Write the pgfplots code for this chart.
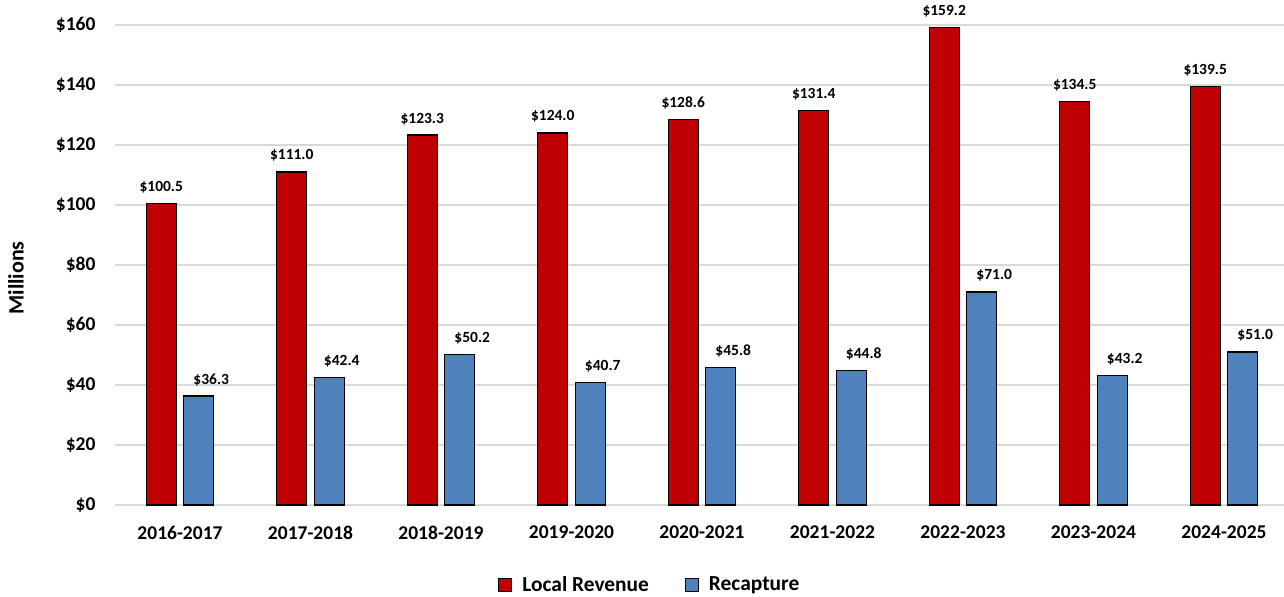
\documentclass[border=0pt]{standalone}
\usepackage{pgfplots}
\pgfplotsset{compat=1.18}
\usepackage{fontspec}
\setmainfont{Carlito}
\definecolor{rred}{HTML}{C00000}
\definecolor{rblue}{HTML}{4F81BD}
\definecolor{grid}{HTML}{D9D9D9}
\begin{document}
\begin{tikzpicture}
\begin{axis}[
  name=ax,
  scale only axis,
  width=584.625pt, height=240pt,
  xmin=-0.5, xmax=8.46,
  ymin=0, ymax=160,
  ybar=3.75pt, bar width=15pt,
  axis line style={draw=none},
  ytick={0,20,...,160},
  yticklabels={\$0,\$20,\$40,\$60,\$80,\$100,\$120,\$140,\$160},
  xtick={0,...,8},
  xticklabels={2016-2017,2017-2018,2018-2019,2019-2020,2020-2021,2021-2022,2022-2023,2023-2024,2024-2025},
  major tick length=0pt,
  ymajorgrids, major grid style={draw=grid, line width=0.75pt},
  xticklabel style={font=\fontsize{9.75pt}{11pt}\selectfont\bfseries, anchor=north, yshift=-7pt},
  yticklabel style={font=\fontsize{9.75pt}{11pt}\selectfont\bfseries, anchor=east, xshift=-6.1pt},
  /pgf/number format/assume math mode=true,
  ylabel={Millions},
  ylabel style={at={(rel axis cs:-0.0845,0.473)}, anchor=center, font=\fontsize{11pt}{13pt}\selectfont\bfseries},
  nodes near coords={\$\pgfmathprintnumber[fixed,fixed zerofill,precision=1]{\pgfplotspointmeta}},
  every node near coord/.append style={font=\fontsize{7.75pt}{9pt}\selectfont\bfseries, anchor=base, yshift=6pt, text=black},
  legend columns=2,
  legend style={at={(0.4585,-0.1667)}, anchor=center, draw=none, fill=none,
    font=\fontsize{10.7pt}{12pt}\selectfont\bfseries,
    /tikz/every odd column/.append style={column sep=3pt},
    /tikz/every even column/.append style={column sep=16pt}},
  legend image code/.code={\draw[#1, draw=black, line width=0.5pt] (0pt,-3.25pt) rectangle (6.5pt,3.25pt);},
  clip=false,
]
\addplot[fill=rred, draw=black, line width=0.6pt] coordinates {(0,100.5) (1,111.0) (2,123.3) (3,124.0) (4,128.6) (5,131.4) (6,159.2) (7,134.5) (8,139.5)};
\addplot[fill=rblue, draw=black, line width=0.6pt, every node near coord/.append style={xshift=6.25pt}] coordinates {(0,36.3) (1,42.4) (2,50.2) (3,40.7) (4,45.8) (5,44.8) (6,71.0) (7,43.2) (8,51.0)};
\legend{Local Revenue, Recapture}
\end{axis}
\pgfresetboundingbox
\path ([xshift=-57.375pt,yshift=-46pt]ax.south west) rectangle ++(642pt,298.5pt);
\end{tikzpicture}
\end{document}
